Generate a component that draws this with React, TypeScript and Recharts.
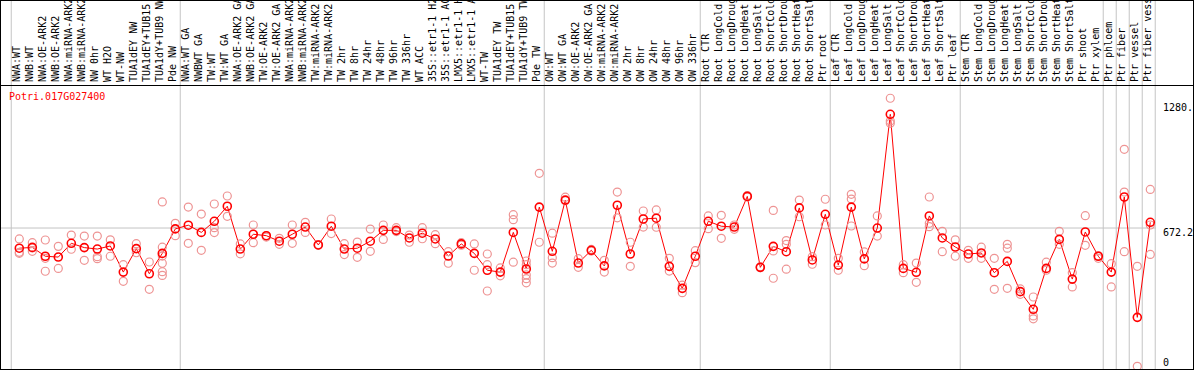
import React from 'react'
import {
  ComposedChart,
  Line,
  Scatter,
  XAxis,
  YAxis,
  ReferenceLine,
} from 'recharts'

const geneId = 'Potri.017G027400'

const categories = [
  'NWA:WT', 'NWB:WT', 'NWA:OE-ARK2', 'NWB:OE-ARK2', 'NWA:miRNA-ARK2', 'NWB:miRNA-ARK2',
  'NW 0hr', 'WT H2O', 'WT-NW', 'TUA1dEY NW', 'TUA1dEY+TUB15', 'TUA1dY+TUB9 NW', 'Pde NW',
  'NWA:WT GA', 'NWBWT GA', 'TW:WT', 'TW:WT GA', 'NWA:OE-ARK2 GA', 'NWB:OE-ARK2 GA',
  'TW:OE-ARK2', 'TW:OE-ARK2 GA', 'NWA:miRNA-ARK2', 'NWB:miRNA-ARK2', 'TW:miRNA-ARK2',
  'TW:miRNA-ARK2', 'TW 2hr', 'TW 8hr', 'TW 24hr', 'TW 48hr', 'TW 96hr', 'TW 336hr', 'WT ACC',
  '35S::etr1-1 H2O', '35S::etr1-1 ACC', 'LMX5::etr1-1 H2O', 'LMX5::etr1-1 ACC', 'WT-TW',
  'TUA1dEY TW', 'TUA1dEY+TUB15', 'TUA1dY+TUB9 TW', 'Pde TW',
  'OW:WT', 'OW:WT GA', 'OW:OE-ARK2', 'OW:OE-ARK2 GA', 'OW:miRNA-ARK2', 'OW:miRNA-ARK2',
  'OW 2hr', 'OW 8hr', 'OW 24hr', 'OW 48hr', 'OW 96hr', 'OW 336hr',
  'Root CTR', 'Root LongCold', 'Root LongDrought', 'Root LongHeat', 'Root LongSalt',
  'Root ShortCold', 'Root ShortDrought', 'Root ShortHeat', 'Root ShortSalt', 'Ptr root',
  'Leaf CTR', 'Leaf LongCold', 'Leaf LongDrought', 'Leaf LongHeat', 'Leaf LongSalt',
  'Leaf ShortCold', 'Leaf ShortDrought', 'Leaf ShortHeat', 'Leaf ShortSalt', 'Ptr leaf',
  'Stem CTR', 'Stem LongCold', 'Stem LongDrought', 'Stem LongHeat', 'Stem LongSalt',
  'Stem ShortCold', 'Stem ShortDrought', 'Stem ShortHeat', 'Stem ShortSalt', 'Ptr shoot',
  'Ptr xylem', 'Ptr phloem', 'Ptr fiber', 'Ptr vessel', 'Ptr fiber vessel',
]

const means = [
  574, 578, 535, 531, 598, 577, 570, 585, 458, 572, 450, 549, 668,
  686, 651, 705, 778, 570, 642, 635, 608, 642, 677, 590, 681, 570, 574, 608,
  661, 661, 624, 647, 619, 536, 595, 549, 467, 458, 651, 473, 774,
  559, 808, 502, 564, 488, 783, 546, 716, 720, 486, 379, 535,
  705, 681, 677, 826, 481, 583, 557, 770, 517, 739,
  492, 774, 522, 672, 1225, 476, 457, 731, 624, 580,
  546, 551, 455, 510, 363, 277, 476, 617, 424, 653, 535,
  458, 823, 238, 700,
]

const replicates = [
  [619, 554, 549], [601, 559, 575], [614, 525, 462], [583, 476], [638, 569], [633, 515],
  [633, 533, 523], [615, 535], [494, 413], [596, 552], [507, 374],
  [799, 579, 536, 501, 460, 442], [695, 635],
  [774, 598], [740, 564], [789, 674, 650], [828, 729], [595, 547], [687, 601], [635, 628],
  [622, 593], [687, 598], [700, 651], [592, 588], [716, 645], [596, 543], [604, 530],
  [667, 559], [687, 617], [674, 655], [638, 603], [674, 620], [640, 596], [557, 501],
  [601, 589], [595, 467], [546, 494, 366], [478, 440], [737, 713, 506],
  [512, 494, 444, 426, 406], [938, 603],
  [647, 528, 502], [822, 805], [523, 481], [568, 560], [515, 458], [847, 722], [603, 486],
  [755, 677], [760, 676], [525, 463], [395, 358], [562, 504],
  [731, 669], [734, 622], [687, 666], [830, 823], [484, 479], [758, 561, 428],
  [611, 593, 472], [808, 727], [533, 496], [812, 687],
  [525, 467], [836, 813, 682], [556, 489], [731, 633], [1303, 1193, 1181], [494, 455],
  [502, 408], [823, 695, 679], [656, 557], [615, 535],
  [564, 525], [579, 525], [525, 374], [593, 574, 379], [376, 350], [337, 245, 231],
  [506, 467], [656, 593], [455, 386], [732, 588], [538, 525],
  [499, 386], [1055, 847, 557], [486, 0], [860, 687, 544],
]

// group separators sit a bit right of the last sample of each group
const separators = [-0.62, 12.38, 40.38, 52.38, 62.38, 72.38, 83.38, 84.38, 85.38, 86.38, 87.38]

const yTicks = [0, 672.2, 1280]
const yTickLabels = ['0', '672.2', '1280.']

const FONT = '"DejaVu Sans Mono", monospace'

const lineData = means.map((v, i) => ({ x: i, v }))
const repData = replicates.flatMap((reps, i) => reps.map(v => ({ x: i, v })))

const CategoryTick = ({ x, payload }: any) => {
  const label = categories[payload.value] ?? ''
  return (
    <text
      transform={`translate(${x + 1},82) rotate(-90)`}
      textAnchor="start"
      fontSize={10}
      fontFamily={FONT}
      fill="#000"
    >
      {label}
    </text>
  )
}

const ValueTick = ({ x, y, payload }: any) => {
  const idx = yTicks.indexOf(payload.value)
  return (
    <text x={x} y={Math.min(y + 8.3, 366)} fontSize={10} fontFamily={FONT} fill="#000">
      {yTickLabels[idx]}
    </text>
  )
}

const MeanDot = ({ cx, cy, index }: any) => (
  <circle key={`m-${index}`} cx={cx} cy={cy} r={4} fill="none" stroke="#ff0000" strokeWidth={1.6} />
)

const RepDot = ({ cx, cy }: any) => (
  <circle cx={cx} cy={cy} r={4} fill="none" stroke="#ee9494" strokeWidth={1.2} />
)

const VLine = (p: any) => (
  <line x1={p.x1} x2={p.x2} y1={0} y2={370} stroke="#c4c4c4" strokeWidth={1} />
)

export default function App() {
  return (
    <div style={{ position: 'absolute', left: 0, top: 0, width: 1194, height: 370, background: '#fff' }}>
      <ComposedChart
        width={1194}
        height={370}
        data={lineData}
        margin={{ top: 0, right: 0, bottom: 0, left: 1 }}
      >
        <XAxis
          xAxisId={0}
          dataKey="x"
          type="number"
          orientation="top"
          height={85}
          domain={[-1.4077, 87.439]}
          allowDataOverflow
          ticks={categories.map((_, i) => i)}
          interval={0}
          tick={<CategoryTick />}
          tickLine={false}
          axisLine={false}
        />
        <YAxis
          yAxisId={0}
          orientation="right"
          width={38}
          type="number"
          domain={[-18, 1367.5]}
          allowDataOverflow
          ticks={yTicks}
          interval={0}
          tick={<ValueTick />}
          tickSize={0}
          tickMargin={7}
          tickLine={false}
          axisLine={false}
        />
        {separators.map(s => (
          <ReferenceLine key={s} x={s} stroke="#c4c4c4" shape={VLine} />
        ))}
        <ReferenceLine y={672.2} stroke="#c4c4c4" strokeWidth={1} />
        <Scatter
          data={repData}
          dataKey="v"
          shape={<RepDot />}
          isAnimationActive={false}
        />
        <Line
          dataKey="v"
          stroke="#ff0000"
          strokeWidth={1}
          dot={MeanDot}
          activeDot={false}
          isAnimationActive={false}
        />
      </ComposedChart>
      <div
        style={{
          position: 'absolute', left: 9, top: 92, fontFamily: FONT, fontSize: 10,
          lineHeight: '10px', color: '#ff0000', whiteSpace: 'nowrap',
        }}
      >
        {geneId}
      </div>
      <div style={{ position: 'absolute', left: 0, top: 85, width: 1194, height: 1, background: '#000' }} />
      <div
        style={{
          position: 'absolute', left: 0, top: 0, width: 1194, height: 370,
          boxSizing: 'border-box', border: '1px solid #000', pointerEvents: 'none',
        }}
      />
    </div>
  )
}
